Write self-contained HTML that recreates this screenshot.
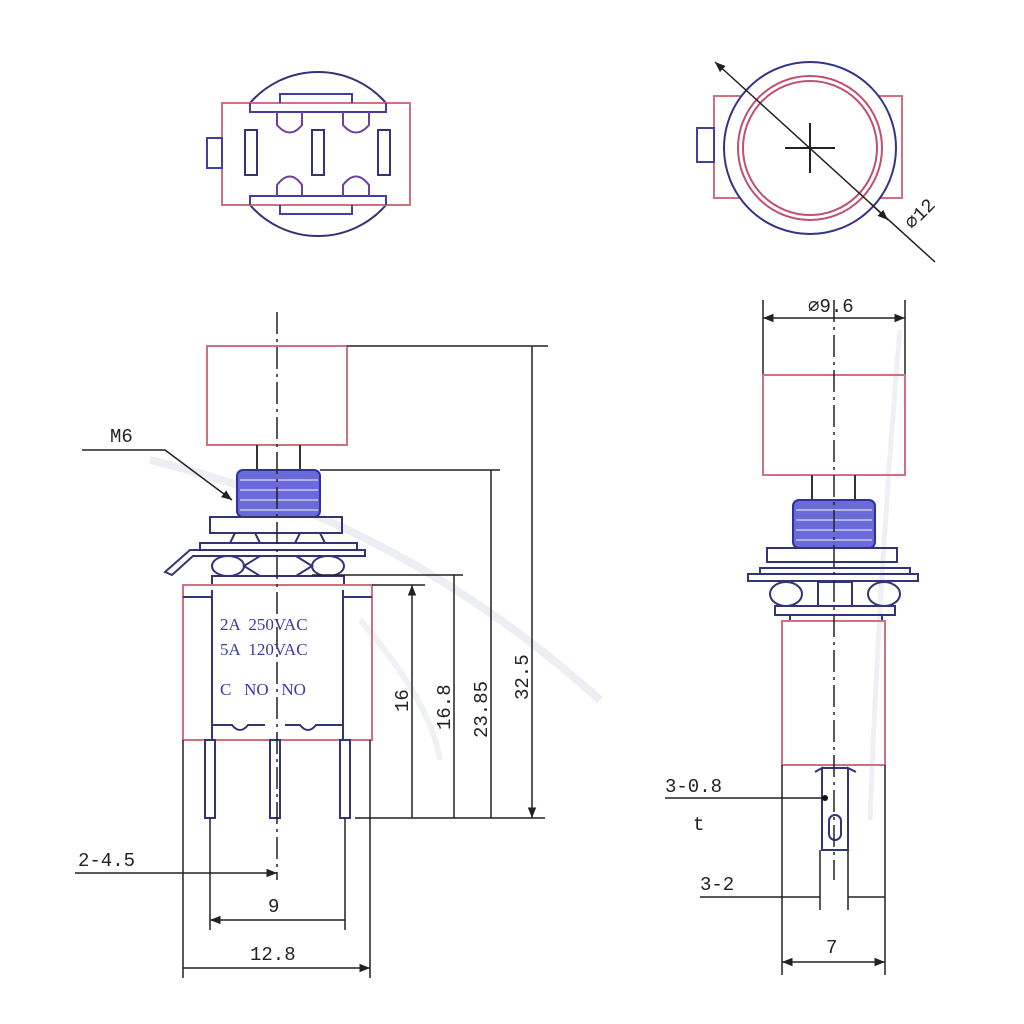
<!DOCTYPE html>
<html><head><meta charset="utf-8"><style>
html,body{margin:0;padding:0;background:#fff;width:1024px;height:1024px;overflow:hidden}
svg{display:block}
text{font-family:"Liberation Mono","DejaVu Sans Mono",monospace;fill:#222}
.b{font-family:"Liberation Serif",serif;fill:#3a3aa8;font-size:17px;white-space:pre}
</style></head><body>
<svg width="1024" height="1024" viewBox="0 0 1024 1024" xmlns="http://www.w3.org/2000/svg">
<defs>
<marker id="a" viewBox="0 0 10 10" refX="10" refY="5" markerWidth="7" markerHeight="7" orient="auto-start-reverse"><path d="M0,1 L10,5 L0,9 z" fill="#222"/></marker>
</defs>
<g fill="none" stroke-width="2">
<path d="M150,460 Q400,520 600,700" stroke="#eceef3" stroke-width="8"/>
<path d="M360,620 Q430,700 440,760" stroke="#f0f1f5" stroke-width="6"/>
<path d="M900,330 Q880,560 870,820" stroke="#eef0f4" stroke-width="5"/>

<!-- TOP LEFT VIEW -->
<path d="M250,103 A90,90 0 0 1 386,103" stroke="#333377"/>
<path d="M250,205 A90,90 0 0 0 386,205" stroke="#333377"/>
<rect x="222" y="103" width="188" height="102" stroke="#d07080"/>
<rect x="207" y="138" width="15" height="30" stroke="#4040a0"/>
<path d="M250,103 V112 H386 V103 M280,103 V94 H352 V103" stroke="#4040a0"/>
<path d="M250,205 V196 H386 V205 M280,205 V214 H352 V205" stroke="#4040a0"/>
<path d="M277,112 V125 Q290,140 302,125 V112 M343,112 V125 Q356,140 369,125 V112" stroke="#7040a0"/>
<path d="M277,196 V185 Q290,168 302,185 V196 M343,196 V185 Q356,168 369,185 V196" stroke="#7040a0"/>
<rect x="245" y="130" width="12" height="45" stroke="#333377"/>
<rect x="312" y="130" width="12" height="45" stroke="#333377"/>
<rect x="378" y="130" width="12" height="45" stroke="#333377"/>

<!-- TOP RIGHT VIEW -->
<rect x="714" y="96" width="188" height="102" stroke="#d07080"/>
<rect x="697" y="128" width="17" height="34" stroke="#4040a0"/>
<circle cx="810" cy="148" r="86" stroke="#333388" fill="#fff"/>
<circle cx="810" cy="148" r="72" stroke="#c05070"/>
<circle cx="810" cy="148" r="67" stroke="#c05070"/>
<path d="M785,148 H835 M810,123 V173" stroke="#222"/>
<path d="M715,62 L935,262" stroke="#222" stroke-width="1.5" marker-start="url(#a)"/>
<path d="M870,203 L888,220" stroke="#222" stroke-width="1.5" marker-end="url(#a)"/>

<!-- BOTTOM LEFT VIEW -->
<rect x="207" y="346" width="140" height="99" stroke="#d07080"/>
<path d="M257,445 V470 M300,445 V470" stroke="#333"/>
<rect x="237" y="470" width="83" height="47" rx="6" fill="#6a6ad8" stroke="#3030a0"/>
<path d="M240,480 H318 M240,490 H318 M240,500 H318 M240,510 H318" stroke="#c8c8f0" stroke-width="1.5"/>
<rect x="210" y="517" width="132" height="16" stroke="#333377"/>
<path d="M235,533 L230,543 M255,533 L260,543 M300,533 L295,543 M320,533 L325,543" stroke="#333377"/>
<rect x="200" y="543" width="157" height="7" stroke="#333377"/>
<path d="M165,572 L190,550 H365 V556 H193 L172,575 Z" stroke="#333377"/>
<ellipse cx="228" cy="566" rx="16" ry="10" stroke="#333377"/>
<ellipse cx="328" cy="566" rx="16" ry="10" stroke="#333377"/>
<path d="M244,566 L260,556 H296 L312,566 L296,576 H260 Z" stroke="#333377"/>
<rect x="212" y="576" width="132" height="9" stroke="#333377"/>
<rect x="183" y="585" width="189" height="155" stroke="#d07080"/>
<path d="M212,590 V740 M343,590 V740 M183,597 H212 M343,597 H372" stroke="#333377"/>
<path d="M212,725 H232 Q240,735 248,725 H265 M285,725 H300 Q308,735 316,725 H343" stroke="#333377"/>
<rect x="205" y="740" width="10" height="78" stroke="#333377"/>
<rect x="270" y="740" width="10" height="78" stroke="#333377"/>
<rect x="340" y="740" width="10" height="78" stroke="#333377"/>
<path d="M277,312 V880" stroke="#222" stroke-width="1.5" stroke-dasharray="22,5,3,5"/>
<path d="M82,450 H165 L232,500" stroke="#222" stroke-width="1.5" marker-end="url(#a)"/>
<path d="M347,346 H548 M320,470 H500 M312,575 H463 M372,585 H425 M355,818 H545" stroke="#222" stroke-width="1.5"/>
<path d="M412,585 V818 M454,575 V818 M491,470 V818 M532,346 V818" stroke="#222" stroke-width="1.5" marker-start="url(#a)" marker-end="url(#a)"/>
<path d="M210,818 V930 M345,818 V930 M183,740 V978 M370,740 V978" stroke="#222" stroke-width="1.5"/>
<path d="M75,873 H277" stroke="#222" stroke-width="1.5" marker-end="url(#a)"/>
<path d="M210,920 H345 M183,968 H370" stroke="#222" stroke-width="1.5" marker-start="url(#a)" marker-end="url(#a)"/>

<!-- BOTTOM RIGHT VIEW -->
<path d="M763,300 V375 M905,300 V375" stroke="#222" stroke-width="1.5"/>
<path d="M763,318 H905" stroke="#222" stroke-width="1.5" marker-start="url(#a)" marker-end="url(#a)"/>
<rect x="763" y="375" width="142" height="100" stroke="#d07080"/>
<path d="M812,475 V500 M855,475 V500" stroke="#333"/>
<rect x="793" y="500" width="82" height="48" rx="6" fill="#6a6ad8" stroke="#3030a0"/>
<path d="M796,510 H872 M796,520 H872 M796,530 H872 M796,540 H872" stroke="#c8c8f0" stroke-width="1.5"/>
<rect x="767" y="548" width="130" height="14" stroke="#333377"/>
<rect x="760" y="568" width="150" height="6" stroke="#333377"/>
<rect x="748" y="574" width="170" height="7" stroke="#333377"/>
<ellipse cx="786" cy="594" rx="16" ry="12" stroke="#333377"/>
<ellipse cx="884" cy="594" rx="16" ry="12" stroke="#333377"/>
<rect x="818" y="582" width="34" height="24" stroke="#333377"/>
<rect x="775" y="606" width="120" height="9" stroke="#333377"/>
<rect x="790" y="615" width="92" height="6" stroke="#333377"/>
<rect x="782" y="621" width="103" height="144" stroke="#d07080"/>
<path d="M815,772 L822,768 V850 H848 V768 L856,772 M822,768 H848" stroke="#333377"/>
<rect x="829" y="815" width="12" height="25" rx="6" stroke="#333377"/>
<path d="M834,300 V880" stroke="#222" stroke-width="1.5" stroke-dasharray="22,5,3,5"/>
<path d="M782,765 V975 M885,765 V975 M820,850 V910 M848,850 V910" stroke="#222" stroke-width="1.5"/>
<path d="M665,798 H825" stroke="#222" stroke-width="1.5"/>
<circle cx="825" cy="798" r="3" fill="#111"/>
<path d="M700,897 H820 M848,897 H885" stroke="#222" stroke-width="1.5"/>
<path d="M782,962 H885" stroke="#222" stroke-width="1.5" marker-start="url(#a)" marker-end="url(#a)"/>
</g>

<text class="b" x="220" y="630">2A  250VAC</text>
<text class="b" x="220" y="655">5A  120VAC</text>
<text class="b" x="220" y="695">C   NO   NO</text>
<g font-size="19">
<text x="110" y="442">M6</text>
<text x="78" y="866">2-4.5</text>
<text x="268" y="912">9</text>
<text x="250" y="960">12.8</text>
<text x="808" y="312">⌀9.6</text>
<text x="826" y="953">7</text>
<text x="700" y="890">3-2</text>
<text x="665" y="792">3-0.8</text>
<text x="693" y="830">t</text>
<text transform="translate(408,712) rotate(-90)">16</text>
<text transform="translate(450,730) rotate(-90)">16.8</text>
<text transform="translate(487,738) rotate(-90)">23.85</text>
<text transform="translate(528,700) rotate(-90)">32.5</text>
<text transform="translate(912,230) rotate(-45)">⌀12</text>
</g>
</svg>
</body></html>
